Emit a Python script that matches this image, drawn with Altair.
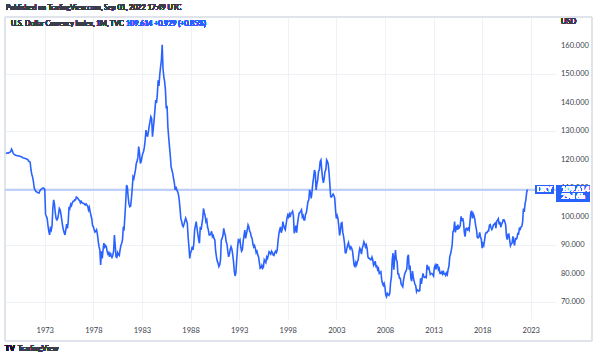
import altair as alt
import pandas as pd

FIRST_YEAR = 1969  # monthly closes from Jan 1969

dxy_1969_1979 = [
    122.3, 122.4, 122.5, 122.4, 122.6, 122.7, 123.0, 123.8, 123.2, 122.4, 122.0, 121.8,
    121.7, 121.6, 121.5, 121.5, 121.4, 121.3, 121.2, 121.1, 121.0, 120.8, 120.7, 120.6,
    120.5, 120.4, 120.3, 120.2, 119.6, 119.5, 119.2, 116.5, 115.0, 114.0, 112.5, 110.2,
    109.5, 109.0, 108.8, 108.6, 108.5, 108.4, 109.2, 109.6, 109.8, 110.0, 110.2, 110.0,
    109.8, 101.0, 100.2, 99.5, 97.0, 95.0, 93.7, 96.0, 95.4, 97.0, 103.0, 106.0,
    104.5, 101.5, 99.5, 99.0, 99.5, 101.0, 103.0, 102.5, 101.0, 99.0, 97.0, 95.5,
    94.5, 93.7, 95.5, 97.5, 96.0, 98.5, 103.6, 103.0, 104.5, 104.0, 105.0, 105.5,
    105.5, 106.0, 106.0, 107.0, 106.8, 106.5, 106.0, 105.8, 105.0, 105.5, 105.0, 104.8,
    104.8, 104.5, 104.2, 104.6, 104.2, 103.8, 102.5, 103.4, 102.0, 100.5, 99.5, 97.0,
    96.6, 95.5, 94.7, 95.0, 95.5, 94.0, 91.5, 89.6, 88.5, 83.2, 88.0, 85.5,
    88.5, 90.8, 89.5, 90.0, 89.6, 88.0, 87.0, 87.5, 86.0, 87.5, 86.5, 85.8,
]
dxy_1980_1989 = [
    86.5, 88.0, 93.7, 90.0, 86.0, 85.8, 87.5, 86.8, 86.5, 88.5, 90.0, 90.8,
    92.0, 96.6, 96.0, 100.5, 105.5, 111.2, 110.5, 107.0, 104.5, 103.6, 103.8, 106.5,
    110.0, 114.1, 113.5, 115.0, 116.5, 118.8, 119.5, 121.0, 124.7, 122.5, 118.8, 119.5,
    121.0, 122.3, 123.0, 124.5, 127.0, 130.5, 129.0, 128.2, 130.0, 132.0, 133.5, 135.2,
    134.5, 128.2, 131.0, 134.0, 137.5, 141.0, 140.0, 143.0, 148.0, 146.0, 150.0, 152.7,
    155.0, 160.4, 152.0, 149.2, 147.5, 144.5, 138.1, 139.0, 131.7, 128.0, 124.7, 121.5,
    117.6, 116.5, 115.3, 113.5, 112.0, 109.5, 110.6, 109.5, 108.9, 108.0, 106.0, 103.0,
    99.5, 98.5, 97.0, 96.6, 97.5, 98.6, 99.6, 98.8, 97.8, 93.1, 89.6, 85.5,
    87.5, 88.0, 89.6, 88.5, 90.5, 95.4, 97.0, 98.4, 96.0, 94.0, 92.0, 90.8,
    96.6, 95.5, 97.5, 99.5, 103.0, 101.5, 100.5, 98.4, 99.0, 96.5, 95.5, 93.7,
]
dxy_1990_1999 = [
    93.7, 94.0, 95.0, 93.1, 93.5, 92.5, 91.9, 88.0, 86.0, 84.5, 83.8, 82.6,
    83.2, 85.0, 91.9, 92.5, 93.5, 96.0, 94.5, 93.5, 91.3, 90.5, 88.0, 86.0,
    87.0, 88.5, 89.6, 88.8, 87.0, 84.5, 81.0, 79.3, 80.5, 85.0, 89.0, 91.9,
    91.5, 92.0, 89.6, 88.0, 88.5, 91.5, 93.5, 95.4, 92.5, 94.0, 95.5, 97.2,
    96.5, 95.0, 94.5, 93.1, 92.5, 90.5, 89.5, 90.0, 89.0, 87.5, 88.0, 86.7,
    86.0, 84.0, 82.0, 82.2, 83.0, 82.0, 82.5, 85.0, 84.5, 84.0, 86.0, 85.5,
    86.5, 87.8, 87.5, 87.0, 88.0, 87.5, 86.7, 86.5, 87.5, 88.0, 87.5, 88.4,
    91.5, 94.0, 95.4, 96.5, 94.5, 95.5, 98.4, 97.0, 96.0, 95.5, 97.5, 99.5,
    100.7, 100.0, 101.0, 100.0, 101.3, 101.5, 102.0, 100.5, 94.3, 95.5, 97.0, 94.5,
    97.5, 99.5, 101.3, 101.5, 102.0, 102.5, 100.0, 100.5, 99.0, 99.0, 101.0, 101.5,
]
dxy_2000_2009 = [
    103.5, 105.5, 106.0, 109.5, 108.5, 106.5, 109.0, 112.0, 114.0, 116.5, 115.5, 109.5,
    111.5, 113.0, 116.0, 116.5, 119.4, 120.0, 116.5, 113.6, 112.0, 113.5, 116.0, 116.5,
    120.0, 119.5, 118.5, 115.5, 111.5, 107.1, 107.0, 107.5, 108.0, 107.5, 106.6, 102.5,
    99.5, 100.5, 99.5, 97.0, 93.5, 95.0, 97.8, 98.0, 94.5, 93.1, 91.0, 87.5,
    87.5, 89.0, 90.2, 91.0, 89.5, 88.8, 89.5, 89.0, 88.0, 85.5, 83.0, 82.6,
    84.0, 83.2, 84.3, 85.0, 87.5, 89.0, 88.4, 87.0, 89.0, 90.0, 91.3, 90.5,
    89.5, 90.2, 89.0, 86.0, 85.5, 85.5, 85.0, 85.0, 85.9, 84.9, 83.0, 83.5,
    84.5, 82.6, 82.8, 81.5, 82.0, 80.2, 80.5, 80.8, 78.0, 76.7, 76.0, 76.7,
    75.5, 72.6, 72.0, 73.2, 72.8, 72.5, 73.2, 77.0, 79.0, 85.0, 87.3, 81.5,
    85.5, 88.4, 85.0, 84.5, 80.0, 80.0, 78.5, 78.5, 76.5, 76.0, 75.5, 77.9,
]
dxy_2010_2019 = [
    79.5, 80.5, 81.0, 81.8, 86.0, 86.7, 81.5, 83.0, 78.5, 77.5, 81.0, 79.0,
    77.5, 76.5, 75.9, 73.8, 74.5, 74.3, 74.0, 74.2, 78.5, 76.5, 78.5, 80.2,
    79.0, 78.8, 79.0, 78.8, 83.2, 81.6, 82.7, 81.2, 79.9, 80.2, 80.2, 79.8,
    79.3, 82.2, 83.0, 81.6, 83.3, 83.2, 81.5, 82.0, 80.2, 80.2, 80.7, 80.0,
    81.2, 80.0, 80.1, 79.5, 80.4, 79.8, 81.5, 82.7, 86.0, 87.0, 88.4, 90.3,
    94.8, 95.3, 98.4, 94.6, 96.9, 95.5, 97.3, 96.0, 96.3, 97.1, 100.2, 98.6,
    99.6, 98.2, 94.6, 93.1, 95.9, 96.1, 95.5, 96.0, 95.4, 98.4, 101.5, 102.2,
    99.5, 101.1, 100.4, 99.1, 97.0, 95.6, 92.9, 92.7, 93.1, 94.6, 93.0, 92.1,
    89.1, 90.6, 90.0, 91.8, 94.0, 94.5, 94.5, 95.1, 95.1, 97.1, 97.3, 96.2,
    95.6, 96.2, 97.3, 97.5, 97.8, 96.1, 98.5, 98.9, 99.4, 97.4, 98.3, 96.4,
]
dxy_2020_2022 = [
    97.4, 98.1, 99.0, 99.0, 98.3, 97.4, 93.3, 92.1, 93.9, 94.0, 91.9, 89.9,
    90.6, 90.9, 93.2, 91.3, 90.0, 92.4, 92.2, 92.6, 94.2, 94.1, 96.0, 95.7,
    96.5, 96.7, 98.3, 103.0, 101.8, 104.7, 105.9, 108.7, 109.614,
]

year_ticks = [1973, 1978, 1983, 1988, 1993, 1998, 2003, 2008, 2013, 2018, 2023]
price_ticks = [70, 80, 90, 100, 110, 120, 130, 140, 150, 160]
last_price = 109.614
header_source = "Published on TradingView.com, Sep 01, 2022 17:49 UTC"
header_title = "U.S. Dollar Currency Index, 1M, TVC"
header_quote = "109.614  +0.929 (+0.85%)"

values = dxy_1969_1979 + dxy_1980_1989 + dxy_1990_1999 + dxy_2000_2009 + dxy_2010_2019 + dxy_2020_2022
df = pd.DataFrame({"t": [FIRST_YEAR + i / 12 for i in range(len(values))], "v": values})
ticks_df = pd.DataFrame({"p": price_ticks})

W, H = 551, 301
BLUE = "#2962ff"
TXT = "#3a3e4a"
FONT = "Lato"
FS = 7.5
FSH = 7.1

x_scale = alt.Scale(domain=[1968.91, 2025.60], nice=False, zero=False)
y_scale = alt.Scale(domain=[64.21, 169.82], nice=False, zero=False)

frame = alt.Chart(df).mark_rect(fill="white", fillOpacity=0, stroke="#e0e3eb", strokeWidth=1).encode(
    x=alt.value(0), x2=alt.value(587), y=alt.value(-1), y2=alt.value(323)
)

price_rule = alt.Chart(df).mark_rule(color="#bccdf9", strokeWidth=0.8).encode(
    y=alt.datum(last_price, scale=y_scale)
)

line = alt.Chart(df).mark_line(color=BLUE, strokeWidth=1.6).encode(
    x=alt.X("t:Q", scale=x_scale,
            axis=alt.Axis(values=year_ticks, format="d", grid=True, domain=False, ticks=False,
                          labelPadding=7, labelFontSize=FS, labelColor=TXT, labelFont=FONT,
                          labelFlush=False, labelOverlap=False, title=None)),
    y=alt.Y("v:Q", scale=y_scale,
            axis=alt.Axis(orient="right", values=price_ticks, grid=True, domain=False,
                          ticks=False, labels=False, title=None)),
)

# price-scale labels, placed through the shared y scale
price_labels = alt.Chart(ticks_df).mark_text(color=TXT, fontSize=FS, font=FONT, align="left",
                                             baseline="middle").encode(
    x=alt.value(556), y=alt.Y("p:Q", scale=y_scale), text=alt.Text("p:Q", format=".3f")
)

dxy_box = alt.Chart(df).mark_rect(color=BLUE, yOffset=-4.6, y2Offset=4.4).encode(
    x=alt.value(530), x2=alt.value(548.5),
    y=alt.datum(last_price, scale=y_scale), y2=alt.datum(last_price)
)
price_box = alt.Chart(df).mark_rect(color=BLUE, yOffset=-4.6, y2Offset=12.1).encode(
    x=alt.value(551), x2=alt.value(585),
    y=alt.datum(last_price, scale=y_scale), y2=alt.datum(last_price)
)
dxy_text = alt.Chart(df).mark_text(color="white", fontSize=FS, font=FONT, align="center",
                                   baseline="middle").encode(
    x=alt.value(539.3), y=alt.datum(last_price, scale=y_scale), text=alt.value("DXY")
)
price_text = alt.Chart(df).mark_text(color="white", fontSize=FS, font=FONT, align="left",
                                     baseline="middle").encode(
    x=alt.value(556.5), y=alt.datum(last_price, scale=y_scale),
    text=alt.value(f"{last_price:.3f}")
)
count_text = alt.Chart(df).mark_text(color="white", fontSize=FS, font=FONT, align="left",
                                     baseline="middle", dy=7.7).encode(
    x=alt.value(556.5), y=alt.datum(last_price, scale=y_scale), text=alt.value("29d 6h")
)

def label(txt, x, y, color=TXT, size=FS, weight="normal"):
    return alt.Chart(df).mark_text(color=color, fontSize=size, font=FONT, align="left",
                                   baseline="middle", fontWeight=weight).encode(
        x=alt.value(x), y=alt.value(y), text=alt.value(txt)
    )

texts = [
    label(header_source, 1, -10, size=FSH),
    label(header_title, 6, 6, size=FSH),
    label(header_quote, 121, 6, color=BLUE, size=FSH),
    label("USD", 556, 4),
    label("TV", 0, 330.5, color="#131722", weight="bold"),
    label("TradingView", 13, 330.5),
]

chart = alt.layer(frame, price_rule, line, price_labels, dxy_box, price_box, dxy_text, price_text,
                  count_text, *texts).properties(
    width=W, height=H,
    autosize=alt.AutoSizeParams(type="none"),
    padding={"left": 5, "top": 18, "right": 44, "bottom": 38},
    background="white",
).configure_view(strokeWidth=0).configure_axis(gridColor="#eef1f6", gridWidth=1)

chart.save("out.html", embed_options={"renderer": "svg", "actions": False})
